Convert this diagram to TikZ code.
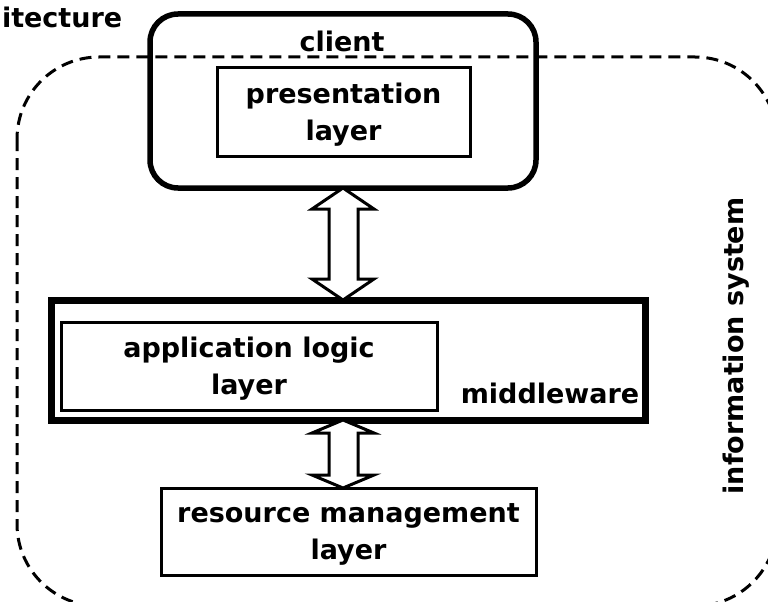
\documentclass[tikz,border=0pt]{standalone}
\usepackage{fontspec}
\setmainfont{DejaVu Sans}
\usetikzlibrary{calc}
\tikzset{
  lbl/.style={font=\bfseries\fontsize{27}{37}\selectfont, inner sep=0pt, outer sep=0pt},
  thinbox/.style={draw, line width=3pt, inner sep=0pt, outer sep=0pt, align=center, lbl, text depth=0pt},
  thickbox/.style={draw, line width=7pt, inner sep=0pt, outer sep=0pt},
  roundbox/.style={draw, line width=5.5pt, rounded corners=28pt, inner sep=0pt, outer sep=0pt},
  sysline/.style={draw, line width=3pt, dash pattern=on 12pt off 7pt, rounded corners=82pt},
  arrowline/.style={draw, line width=3pt, fill=white, line join=miter}
}
\newcommand{\hollowarrow}[3]{%
  \path[arrowline] let \p1=(#1), \p2=(#2) in
    (\x1,\y1) -- ({\x1+31pt},{\y1-#3}) -- ({\x1+15pt},{\y1-#3}) --
    ({\x1+15pt},{\y2+#3}) -- ({\x1+31pt},{\y2+#3}) -- (\x1,\y2) --
    ({\x1-31pt},{\y2+#3}) -- ({\x1-14pt},{\y2+#3}) --
    ({\x1-14pt},{\y1-#3}) -- ({\x1-31pt},{\y1-#3}) -- cycle;}
\begin{document}
\begin{tikzpicture}[x=1pt,y=-1pt]
\useasboundingbox (0,0) rectangle (768,602);
\clip (0,0) rectangle (768,602);
% information system boundary
\path[sysline] (17,57) rectangle (777,606);
% title fragment
\node[lbl, anchor=base west] (arch) at (2,28) {itecture};
% client
\node[roundbox, minimum width=386pt, minimum height=174pt] (client) at (343,101) {};
\node[lbl, anchor=base] (clientlbl) at (342,52) {client};
\node[thinbox, minimum width=253pt, minimum height=88pt] (pres) at (343.5,112) {presentation\\layer};
% middleware
\node[thickbox, minimum width=594pt, minimum height=120pt] (mw) at (348,360) {};
\node[thinbox, minimum width=376pt, minimum height=88pt] (app) at (249,366) {application logic\\layer};
\node[lbl, anchor=base] (mwlbl) at (550,403) {middleware};
% resource management
\node[thinbox, minimum width=375pt, minimum height=87pt] (res) at (348.5,531.5) {resource management\\layer};
% system label
\node[lbl, rotate=90] (sys) at (736,346) {information system};
% arrows
\coordinate (a1top) at (client.south);
\coordinate (a1bot) at (client.south |- mw.north);
\coordinate (a2top) at (client.south |- mw.south);
\coordinate (a2bot) at (client.south |- res.north);
\hollowarrow{a1top}{a1bot}{21pt}
\hollowarrow{a2top}{a2bot}{13pt}
\end{tikzpicture}
\end{document}
